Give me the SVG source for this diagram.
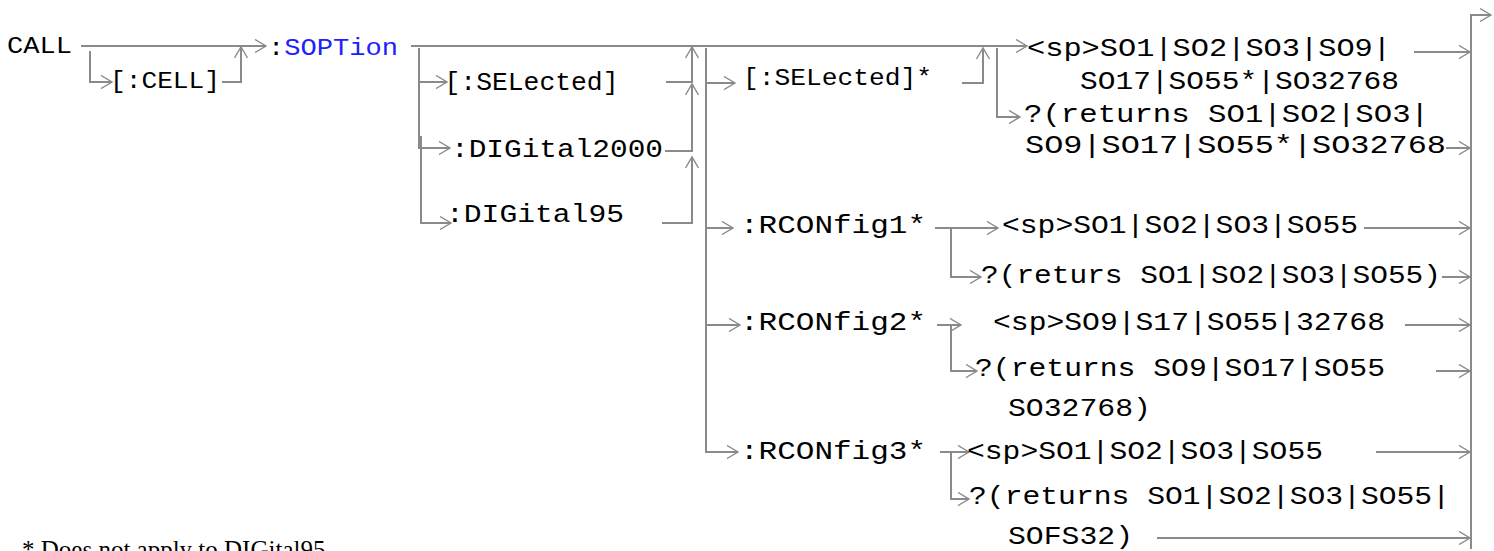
<svg xmlns="http://www.w3.org/2000/svg" width="1494" height="551" viewBox="0 0 1494 551">
<style>
text{font-family:"Liberation Mono","DejaVu Sans Mono",monospace;fill:#000}
.l{font-size:23px}
.m{font-size:26px}
.r{font-size:26px}
.blue{fill:#2020ff}
.ln{fill:none;stroke:#8a8a8a;stroke-width:2}
.fn{font-family:"Liberation Serif","Times New Roman",serif;font-size:25px}
</style>
<defs>
<marker id="ah" markerWidth="14" markerHeight="14" refX="12" refY="7" orient="auto" markerUnits="userSpaceOnUse">
<path d="M1,0.5 L12,7 L1,13.5" fill="none" stroke="#8a8a8a" stroke-width="1.4"/>
</marker>
</defs>
<g id="connectors" class="ln" marker-end="url(#ah)">
<path d="M81,46 H266"/>
<path d="M90,51 V82 H112"/>
<path d="M222,82 H241 V47"/>
<path d="M411,46 H1027"/>
<path d="M419,48 V148 H450"/>
<path d="M419,82 H447"/>
<path d="M421,136 V223 H451"/>
<path d="M666,82 H692 V47"/>
<path d="M665,151 H692 V84"/>
<path d="M662,223 H692 V157"/>
<path d="M706,48 V452 H738"/>
<path d="M706,83 H735"/>
<path d="M706,228 H733"/>
<path d="M706,325 H740"/>
<path d="M962,83 H983 V48"/>
<path d="M997,48 V117 H1020"/>
<path d="M1414,52 H1470"/>
<path d="M1446,148 H1470"/>
<path d="M935,228 H998"/>
<path d="M951,228 V277 H981"/>
<path d="M1364,228 H1470"/>
<path d="M1442,277 H1470"/>
<path d="M937,325 H961"/>
<path d="M951,325 V371 H977"/>
<path d="M1405,325 H1470"/>
<path d="M1436,371 H1470"/>
<path d="M940,452 H969"/>
<path d="M951,452 V499 H969"/>
<path d="M1376,452 H1470"/>
<path d="M1157,538 H1470"/>
<path d="M1471,549 V15 H1491"/>
</g>
<g id="n-call"><text class="l" x="7" y="53" textLength="65" lengthAdjust="spacingAndGlyphs">CALL</text></g>
<g id="n-cell"><text class="l" x="110" y="88" textLength="110" lengthAdjust="spacingAndGlyphs">[:CELL]</text></g>
<g id="n-soption"><text class="l" x="268" y="55" textLength="130" lengthAdjust="spacingAndGlyphs">:<tspan class="blue">SOPTion</tspan></text></g>
<g id="n-selected"><text class="m" x="444.5" y="90" textLength="174" lengthAdjust="spacingAndGlyphs">[:SELected]</text></g>
<g id="n-dig2000"><text class="m" x="451" y="157" textLength="212" lengthAdjust="spacingAndGlyphs">:DIGital2000</text></g>
<g id="n-dig95"><text class="m" x="446" y="222" textLength="178" lengthAdjust="spacingAndGlyphs">:DIGital95</text></g>
<g id="n-selected2"><text class="l" x="743" y="85" textLength="189" lengthAdjust="spacingAndGlyphs">[:SELected]*</text></g>
<g id="n-sel-set">
<text class="r" x="1027" y="56" textLength="364" lengthAdjust="spacingAndGlyphs">&lt;sp&gt;SO1|SO2|SO3|SO9|</text>
<text class="r" x="1080" y="89" textLength="319" lengthAdjust="spacingAndGlyphs">SO17|SO55*|SO32768</text>
</g>
<g id="n-sel-query">
<text class="r" x="1024" y="122" textLength="405" lengthAdjust="spacingAndGlyphs">?(returns SO1|SO2|SO3|</text>
<text class="r" x="1025" y="153" textLength="421" lengthAdjust="spacingAndGlyphs">SO9|SO17|SO55*|SO32768</text>
</g>
<g id="n-rc1"><text class="r" x="740" y="233" textLength="186" lengthAdjust="spacingAndGlyphs">:RCONfig1*</text></g>
<g id="n-rc1-set"><text class="r" x="1002" y="233" textLength="356" lengthAdjust="spacingAndGlyphs">&lt;sp&gt;SO1|SO2|SO3|SO55</text></g>
<g id="n-rc1-query"><text class="r" x="981" y="283" textLength="460" lengthAdjust="spacingAndGlyphs">?(returs SO1|SO2|SO3|SO55)</text></g>
<g id="n-rc2"><text class="r" x="740" y="330" textLength="186" lengthAdjust="spacingAndGlyphs">:RCONfig2*</text></g>
<g id="n-rc2-set"><text class="r" x="993" y="330" textLength="392" lengthAdjust="spacingAndGlyphs">&lt;sp&gt;SO9|S17|SO55|32768</text></g>
<g id="n-rc2-query">
<text class="r" x="975" y="376" textLength="410" lengthAdjust="spacingAndGlyphs">?(returns SO9|SO17|SO55</text>
<text class="r" x="1008" y="416" textLength="143" lengthAdjust="spacingAndGlyphs">SO32768)</text>
</g>
<g id="n-rc3"><text class="r" x="740" y="459" textLength="186" lengthAdjust="spacingAndGlyphs">:RCONfig3*</text></g>
<g id="n-rc3-set"><text class="r" x="967" y="459" textLength="356" lengthAdjust="spacingAndGlyphs">&lt;sp&gt;SO1|SO2|SO3|SO55</text></g>
<g id="n-rc3-query">
<text class="r" x="969" y="504" textLength="481" lengthAdjust="spacingAndGlyphs">?(returns SO1|SO2|SO3|SO55|</text>
<text class="r" x="1008" y="544" textLength="125" lengthAdjust="spacingAndGlyphs">SOFS32)</text>
</g>
<g id="footnote"><text class="fn" x="22" y="558">* Does not apply to DIGital95</text></g>
</svg>
